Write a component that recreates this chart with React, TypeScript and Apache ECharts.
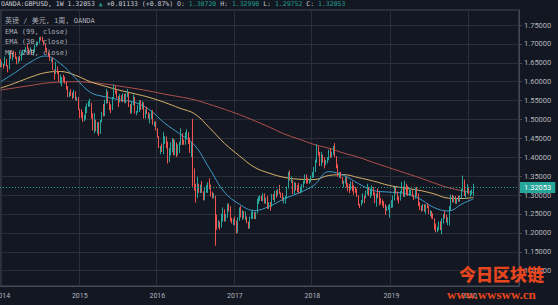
import { useEffect, useRef } from "react";
import * as echarts from "echarts";

// Weekly GBP/USD (OANDA), weeks starting Monday 2013-12-30 through 2020-01-27
const firstOpen = 1.656;
const closes = [
  // 2014
  1.6426, 1.6445, 1.6425, 1.657, 1.6435, 1.64, 1.6745, 1.6665, 1.675, 1.6725, 1.663, 1.649, 1.6635,
  1.6585, 1.674, 1.6795, 1.681, 1.6885, 1.6865, 1.6825, 1.684, 1.6745, 1.6795, 1.697, 1.7015, 1.7015,
  1.7155, 1.7105, 1.7085, 1.698, 1.683, 1.6785, 1.67, 1.6565, 1.66, 1.6325, 1.6255, 1.63, 1.6255,
  1.604, 1.6085, 1.609, 1.6085, 1.5995, 1.5865, 1.565, 1.568, 1.564, 1.5625, 1.571, 1.553, 1.5565,
  // 2015
  1.5275, 1.5165, 1.5155, 1.495, 1.5065, 1.5235, 1.5395, 1.5395, 1.5435, 1.505, 1.473, 1.495, 1.4875,
  1.4905, 1.463, 1.496, 1.5185, 1.515, 1.545, 1.572, 1.5475, 1.5285, 1.528, 1.558, 1.588, 1.5745,
  1.5605, 1.5515, 1.5595, 1.5505, 1.561, 1.5495, 1.5615, 1.57, 1.538, 1.517, 1.543, 1.554, 1.5185,
  1.5185, 1.532, 1.5475, 1.5305, 1.5425, 1.505, 1.5225, 1.5185, 1.5035, 1.5125, 1.5195, 1.4895, 1.4905,
  // 2016
  1.4735, 1.4535, 1.425, 1.4265, 1.425, 1.45, 1.45, 1.44, 1.3885, 1.4235, 1.4375, 1.4475, 1.411,
  1.4355, 1.412, 1.42, 1.44, 1.4615, 1.4445, 1.4385, 1.45, 1.4635, 1.452, 1.426, 1.436, 1.368,
  1.3275, 1.295, 1.319, 1.3095, 1.323, 1.308, 1.2935, 1.307, 1.3225, 1.33, 1.3265, 1.304, 1.297, 1.2975,
  1.243, 1.219, 1.223, 1.219, 1.2485, 1.26, 1.238, 1.2475, 1.2735, 1.2615, 1.235, 1.228, 1.234,
  // 2017
  1.231, 1.218, 1.2375, 1.256, 1.2485, 1.2485, 1.241, 1.241, 1.23, 1.2165, 1.24, 1.2475, 1.2545,
  1.24, 1.255, 1.2815, 1.294, 1.2965, 1.2885, 1.303, 1.2795, 1.289, 1.274, 1.278, 1.272, 1.3025,
  1.2885, 1.31, 1.2995, 1.3135, 1.304, 1.301, 1.2875, 1.288, 1.294, 1.32, 1.359, 1.3395, 1.34,
  1.3065, 1.3285, 1.319, 1.3125, 1.3065, 1.319, 1.3225, 1.333, 1.348, 1.338, 1.3325, 1.3385, 1.351,
  // 2018
  1.3565, 1.3725, 1.3865, 1.415, 1.412, 1.382, 1.4025, 1.397, 1.3815, 1.386, 1.395, 1.4135, 1.402,
  1.409, 1.424, 1.4015, 1.377, 1.3525, 1.3535, 1.3465, 1.3305, 1.3355, 1.341, 1.327, 1.3265, 1.32,
  1.329, 1.3225, 1.3135, 1.311, 1.2995, 1.2765, 1.2735, 1.2845, 1.296, 1.2925, 1.3075, 1.3205, 1.303,
  1.3125, 1.3155, 1.306, 1.281, 1.2975, 1.297, 1.283, 1.2805, 1.276, 1.2735, 1.2585, 1.265, 1.2725,
  // 2019
  1.2725, 1.284, 1.288, 1.3195, 1.308, 1.294, 1.29, 1.306, 1.319, 1.3005, 1.328, 1.321, 1.3035,
  1.3045, 1.308, 1.2975, 1.2925, 1.3185, 1.301, 1.2715, 1.271, 1.2625, 1.274, 1.259, 1.274, 1.2695,
  1.2525, 1.2575, 1.2475, 1.2375, 1.216, 1.203, 1.2145, 1.2275, 1.2165, 1.229, 1.2495, 1.2475, 1.229,
  1.233, 1.2665, 1.2965, 1.2835, 1.294, 1.278, 1.2895, 1.284, 1.293, 1.315, 1.3325, 1.301, 1.3075,
  // 2020
  1.3085, 1.306, 1.307, 1.3072, 1.32053,
];
const highs = [
  1.66, 1.653, 1.6475, 1.6668, 1.66, 1.644, 1.682, 1.6825, 1.677, 1.682, 1.679, 1.666, 1.6665,
  1.668, 1.68, 1.684, 1.685, 1.692, 1.6995, 1.69, 1.691, 1.686, 1.686, 1.699, 1.7065, 1.706,
  1.718, 1.719, 1.719, 1.709, 1.6995, 1.6895, 1.679, 1.672, 1.6625, 1.6645, 1.6325, 1.6525, 1.64,
  1.627, 1.619, 1.6125, 1.6185, 1.6135, 1.6015, 1.5885, 1.5735, 1.58, 1.572, 1.5785, 1.5745, 1.56,
  1.559, 1.5285, 1.527, 1.5195, 1.5125, 1.5345, 1.543, 1.5485, 1.555, 1.5445, 1.5165, 1.5165, 1.4995,
  1.493, 1.4935, 1.499, 1.52, 1.5405, 1.5525, 1.5815, 1.5745, 1.5475, 1.54, 1.5595, 1.593, 1.588,
  1.577, 1.562, 1.5675, 1.564, 1.569, 1.568, 1.569, 1.5805, 1.5715, 1.541, 1.546, 1.566, 1.5595,
  1.523, 1.5385, 1.551, 1.551, 1.548, 1.545, 1.5265, 1.534, 1.5195, 1.516, 1.524, 1.5245, 1.495,
  1.495, 1.4765, 1.456, 1.43, 1.4365, 1.4665, 1.456, 1.455, 1.442, 1.4245, 1.44, 1.4515, 1.4485,
  1.446, 1.4395, 1.4345, 1.4415, 1.477, 1.464, 1.447, 1.4665, 1.474, 1.4665, 1.4525, 1.4405, 1.5015,
  1.3705, 1.33, 1.348, 1.33, 1.3275, 1.337, 1.3095, 1.319, 1.327, 1.334, 1.3445, 1.328, 1.309, 1.3055,
  1.2985, 1.248, 1.2335, 1.23, 1.2505, 1.2675, 1.2625, 1.25, 1.2775, 1.2775, 1.2705, 1.24, 1.237,
  1.243, 1.2325, 1.2415, 1.2675, 1.271, 1.26, 1.2575, 1.257, 1.243, 1.23, 1.243, 1.256, 1.2615,
  1.255, 1.2565, 1.2905, 1.2965, 1.299, 1.298, 1.305, 1.3045, 1.2935, 1.2975, 1.2815, 1.2815, 1.303,
  1.303, 1.3115, 1.3125, 1.316, 1.327, 1.307, 1.306, 1.2955, 1.298, 1.3225, 1.3615, 1.3655, 1.349,
  1.3405, 1.334, 1.3335, 1.3265, 1.332, 1.3225, 1.329, 1.338, 1.355, 1.355, 1.3455, 1.341, 1.3515,
  1.3615, 1.3745, 1.3945, 1.4345, 1.429, 1.4145, 1.4145, 1.407, 1.4, 1.393, 1.4005, 1.42, 1.4245,
  1.4145, 1.43, 1.4375, 1.403, 1.3815, 1.361, 1.3615, 1.3475, 1.338, 1.3475, 1.3475, 1.3315, 1.329,
  1.3365, 1.336, 1.326, 1.3215, 1.317, 1.3, 1.277, 1.287, 1.3045, 1.2985, 1.312, 1.33, 1.3215,
  1.3175, 1.326, 1.321, 1.307, 1.3045, 1.3175, 1.309, 1.293, 1.2885, 1.284, 1.276, 1.2705, 1.274,
  1.2765, 1.2865, 1.2985, 1.3215, 1.3215, 1.3095, 1.2965, 1.311, 1.335, 1.323, 1.338, 1.33, 1.3245,
  1.32, 1.3145, 1.3125, 1.301, 1.3195, 1.3215, 1.3045, 1.2815, 1.2725, 1.2765, 1.276, 1.275, 1.2785,
  1.2715, 1.26, 1.258, 1.252, 1.2385, 1.225, 1.2165, 1.23, 1.231, 1.2385, 1.25, 1.258, 1.248,
  1.241, 1.271, 1.301, 1.301, 1.2975, 1.2975, 1.2925, 1.2985, 1.2985, 1.3175, 1.3515, 1.341, 1.312,
  1.3285, 1.3215, 1.312, 1.315, 1.3299,
];
const lows = [
  1.638, 1.639, 1.6345, 1.642, 1.6405, 1.625, 1.633, 1.66, 1.656, 1.665, 1.66, 1.646, 1.648,
  1.654, 1.656, 1.67, 1.676, 1.679, 1.6855, 1.6735, 1.68, 1.6705, 1.669, 1.678, 1.6925, 1.696,
  1.701, 1.709, 1.706, 1.696, 1.682, 1.674, 1.666, 1.655, 1.6525, 1.631, 1.605, 1.621, 1.6205,
  1.6, 1.595, 1.5875, 1.6, 1.5945, 1.579, 1.559, 1.559, 1.562, 1.554, 1.557, 1.551, 1.5485,
  1.5255, 1.5035, 1.5035, 1.4935, 1.495, 1.5, 1.517, 1.533, 1.5345, 1.5025, 1.471, 1.4635, 1.469,
  1.4625, 1.4565, 1.462, 1.4925, 1.5085, 1.5085, 1.542, 1.543, 1.525, 1.517, 1.525, 1.554, 1.567,
  1.5565, 1.533, 1.545, 1.547, 1.546, 1.544, 1.5425, 1.559, 1.533, 1.516, 1.516, 1.5375, 1.516,
  1.511, 1.518, 1.52, 1.525, 1.527, 1.5025, 1.503, 1.5145, 1.5015, 1.4895, 1.501, 1.486, 1.4815,
  1.471, 1.4525, 1.4245, 1.408, 1.414, 1.408, 1.4355, 1.424, 1.3835, 1.3875, 1.405, 1.4135, 1.4055,
  1.405, 1.4005, 1.405, 1.4115, 1.432, 1.433, 1.433, 1.433, 1.4475, 1.435, 1.4115, 1.401, 1.323,
  1.312, 1.28, 1.292, 1.306, 1.305, 1.306, 1.2865, 1.2855, 1.306, 1.306, 1.316, 1.296, 1.2915, 1.2905,
  1.166, 1.2085, 1.214, 1.208, 1.214, 1.23, 1.23, 1.23, 1.24, 1.256, 1.2305, 1.225, 1.2205,
  1.22, 1.1985, 1.2, 1.232, 1.241, 1.2345, 1.238, 1.234, 1.2255, 1.211, 1.211, 1.2365, 1.2375,
  1.2365, 1.2365, 1.2515, 1.276, 1.284, 1.2845, 1.283, 1.2775, 1.277, 1.2635, 1.2635, 1.259, 1.269,
  1.287, 1.281, 1.293, 1.299, 1.303, 1.2925, 1.2845, 1.2775, 1.2775, 1.29, 1.3175, 1.338, 1.332,
  1.3025, 1.303, 1.312, 1.308, 1.304, 1.304, 1.3065, 1.32, 1.3305, 1.3305, 1.3305, 1.33, 1.334,
  1.3455, 1.346, 1.361, 1.3855, 1.4045, 1.3765, 1.3765, 1.3855, 1.371, 1.379, 1.384, 1.392, 1.398,
  1.4, 1.4065, 1.4005, 1.371, 1.3485, 1.345, 1.3445, 1.33, 1.3205, 1.3305, 1.3205, 1.31, 1.305,
  1.313, 1.31, 1.301, 1.306, 1.2955, 1.2725, 1.266, 1.2725, 1.2785, 1.2785, 1.291, 1.3015, 1.2975,
  1.2925, 1.2985, 1.2995, 1.2785, 1.2695, 1.292, 1.2725, 1.277, 1.272, 1.266, 1.2475, 1.258, 1.26,
  1.2405, 1.266, 1.267, 1.2855, 1.3035, 1.2855, 1.2775, 1.2855, 1.305, 1.296, 1.2945, 1.3005, 1.2975,
  1.2975, 1.299, 1.296, 1.2865, 1.2905, 1.2965, 1.271, 1.2605, 1.256, 1.2585, 1.256, 1.2505, 1.2655,
  1.2505, 1.244, 1.238, 1.2365, 1.208, 1.2015, 1.2015, 1.2065, 1.207, 1.196, 1.2245, 1.238, 1.227,
  1.2205, 1.2195, 1.2585, 1.28, 1.2805, 1.277, 1.2765, 1.2825, 1.282, 1.2905, 1.3105, 1.2975, 1.2905,
  1.3045, 1.3015, 1.296, 1.301, 1.29752,
];
const emptyWeeksAhead = 30;
const firstWeekStart = Date.UTC(2013, 11, 30);

// Indicator lines, sampled every 10 weeks
const maSampleWeeks = [
  0, 10, 20, 30, 40, 50, 60, 70, 80, 90, 100, 110, 120, 130, 140, 150, 160,
  170, 180, 190, 200, 210, 220, 230, 240, 250, 260, 270, 280, 290, 300, 310, 317,
];
const ema30Values = [
  1.6, 1.625, 1.652, 1.668, 1.648, 1.61, 1.572, 1.56, 1.552, 1.545, 1.525, 1.49, 1.462, 1.432, 1.37,
  1.308, 1.276, 1.259, 1.27, 1.29, 1.306, 1.326, 1.362, 1.352, 1.33, 1.312, 1.308, 1.305, 1.292,
  1.268, 1.258, 1.278, 1.29,
];
const ema99Values = [
  1.583, 1.597, 1.612, 1.624, 1.627, 1.617, 1.6, 1.588, 1.577, 1.568, 1.558, 1.545, 1.53, 1.515,
  1.478, 1.437, 1.404, 1.374, 1.358, 1.347, 1.342, 1.341, 1.352, 1.354, 1.346, 1.337, 1.326, 1.319,
  1.313, 1.304, 1.292, 1.291, 1.294,
];
const ma200Values = [
  1.578, 1.584, 1.59, 1.596, 1.599, 1.6, 1.598, 1.594, 1.588, 1.582, 1.575, 1.567, 1.56, 1.552,
  1.54, 1.527, 1.513, 1.497, 1.48, 1.462, 1.448, 1.434, 1.424, 1.411, 1.4, 1.386, 1.373, 1.36,
  1.347, 1.333, 1.32, 1.311, 1.307,
];

const lastPrice = 1.32053;
const legendLines = ["英镑 / 美元, 1周, OANDA", "EMA (99, close)", "EMA (30, close)", "MA (200, close)"];

const UP = "#26a69a";
const DOWN = "#ef5350";
const BG = "#131722";
const GRID = "#2a2e39";
const BORDER = "#464a55";
const TEXT = "#b2b5be";

export default function App() {
  const ref = useRef<HTMLDivElement>(null);

  useEffect(() => {
    document.body.style.margin = "0";
    document.body.style.background = BG;
    if (!ref.current) return;
    const chart = echarts.init(ref.current, undefined, { renderer: "svg" });

    const weekCount = closes.length + emptyWeeksAhead;
    const categories: string[] = [];
    for (let i = 0; i < weekCount; i++) {
      categories.push(new Date(firstWeekStart + i * 7 * 86400000).toISOString().slice(0, 10));
    }
    const isYearStart = (idx: number) =>
      idx > 0 && categories[idx].slice(0, 4) !== categories[idx - 1].slice(0, 4);

    const candles = closes.map((c, i) => [i === 0 ? firstOpen : closes[i - 1], c, lows[i], highs[i]]);
    const linePoints = (vals: number[]) => maSampleWeeks.map((w, k) => [w, vals[k]]);

    const mono = "'DejaVu Sans Mono', 'Noto Sans CJK SC', monospace";

    chart.setOption({
      animation: false,
      backgroundColor: BG,
      grid: {
        left: 0,
        right: 39,
        top: 10,
        bottom: 19,
        outerBoundsMode: "none",
        show: true,
        borderColor: BORDER,
        borderWidth: 1,
        backgroundColor: BG,
      },
      xAxis: {
        type: "category",
        data: categories,
        boundaryGap: true,
        axisLine: { show: true, lineStyle: { color: BORDER } },
        axisTick: { show: false },
        axisLabel: {
          color: TEXT,
          fontSize: 7,
          fontFamily: "Roboto",
          margin: 6,
          interval: (idx: number) => isYearStart(idx),
          formatter: (v: string) => v.slice(0, 4),
        },
        splitLine: {
          show: true,
          interval: (idx: number) => isYearStart(idx),
          lineStyle: { color: GRID, width: 1 },
        },
      },
      yAxis: {
        type: "value",
        position: "right",
        min: 1.0595,
        max: 1.7897,
        splitNumber: 14,
        minInterval: 0.05,
        maxInterval: 0.05,
        axisLine: { show: true, lineStyle: { color: BORDER } },
        axisTick: { show: true, length: 3, lineStyle: { color: BORDER } },
        axisLabel: {
          color: TEXT,
          fontSize: 7.5,
          fontFamily: "Roboto",
          margin: 5,
          showMinLabel: false,
          showMaxLabel: false,
          formatter: (v: number) => v.toFixed(5),
        },
        splitLine: { show: true, lineStyle: { color: GRID, width: 1 } },
      },
      series: [
        {
          name: "MA (200, close)",
          type: "line",
          data: linePoints(ma200Values),
          smooth: 0.4,
          symbol: "none",
          lineStyle: { color: "#b0504c", width: 1 },
          z: 3,
        },
        {
          name: "EMA (99, close)",
          type: "line",
          data: linePoints(ema99Values),
          smooth: 0.4,
          symbol: "none",
          lineStyle: { color: "#d9b36a", width: 1 },
          z: 3,
        },
        {
          name: "EMA (30, close)",
          type: "line",
          data: linePoints(ema30Values),
          smooth: 0.4,
          symbol: "none",
          lineStyle: { color: "#3e9cc9", width: 1 },
          z: 3,
        },
        {
          name: "GBPUSD",
          type: "candlestick",
          data: candles,
          barWidth: 1.2,
          z: 4,
          itemStyle: {
            color: UP,
            color0: DOWN,
            borderColor: UP,
            borderColor0: DOWN,
            borderWidth: 1,
          },
          markLine: {
            silent: true,
            symbol: ["none", "none"],
            lineStyle: { color: UP, type: [1, 2], width: 1 },
            label: {
              show: true,
              position: "end",
              distance: 1,
              formatter: lastPrice.toFixed(5),
              color: "#ffffff",
              backgroundColor: UP,
              padding: [2, 4, 1, 4],
              fontSize: 7.5,
              fontFamily: "Roboto",
            },
            data: [{ yAxis: lastPrice }],
          },
        },
      ],
      graphic: [
        {
          type: "text",
          left: 1,
          top: 1,
          z: 10,
          style: {
            text:
              "{a|OANDA:GBPUSD, 1W 1.32053 }{b|▲}{a| +0.01133 (+0.87%) O:}{b| 1.30720 }{a|H:}{b| 1.32990 }{a|L:}{b| 1.29752 }{a|C:}{b| 1.32053}",
            rich: {
              a: { fill: "#c8cad1", fontSize: 6.5, fontFamily: mono },
              b: { fill: "#1f9e8e", fontSize: 6.5, fontFamily: mono },
            },
          },
        },
        ...legendLines.map((t, k) => ({
          type: "text",
          left: 5,
          top: [17, 28, 38.5, 49][k],
          z: 10,
          style: {
            text: t,
            fill: "#a9acb5",
            fontSize: 7,
            fontFamily: mono,
          },
        })),
        {
          type: "text",
          left: 459,
          top: 265,
          z: 20,
          style: {
            text: "今日区块链",
            fill: "#e8461e",
            fontSize: 17,
            fontWeight: 900,
            fontFamily: "'Noto Sans CJK SC'",
          },
        },
        {
          type: "text",
          left: 447,
          top: 288,
          z: 20,
          style: {
            text: "www.wwsww.cn",
            fill: "#e8461e",
            fontSize: 13,
            fontWeight: "bold",
            fontFamily: "'Liberation Serif', serif",
          },
        },
      ],
    });

    return () => chart.dispose();
  }, []);

  return <div ref={ref} style={{ width: 558, height: 305 }} />;
}
